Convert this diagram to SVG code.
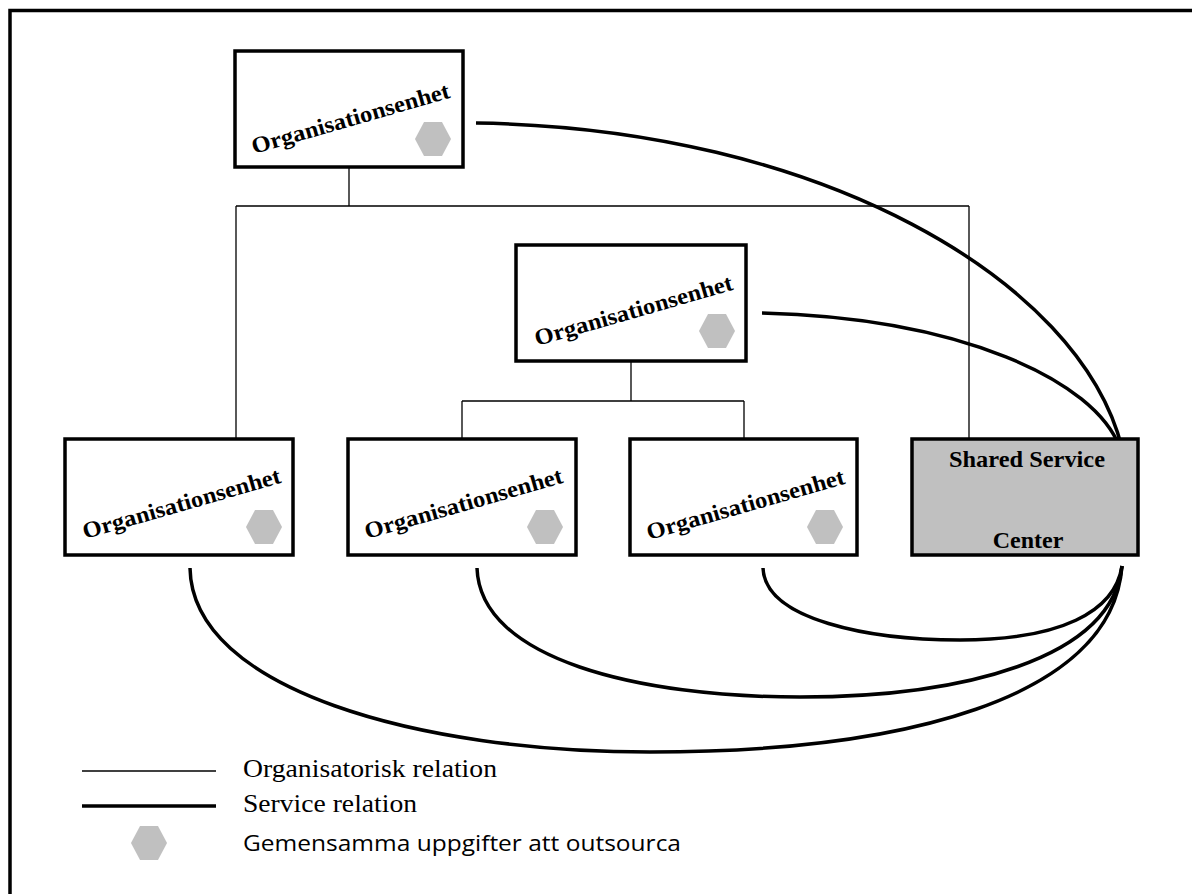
<svg xmlns="http://www.w3.org/2000/svg" width="1192" height="894" viewBox="0 0 1192 894">
<style>
.box{fill:#fff;stroke:#000;stroke-width:3.5}
.ssc{fill:#c0c0c0;stroke:#000;stroke-width:3.5}
.hex{fill:#c0c0c0}
.org{fill:none;stroke:#000;stroke-width:1.3}
.svc{fill:none;stroke:#000;stroke-width:3.5}
.lbl{font-family:"Liberation Serif",serif;font-weight:bold;font-size:23px;fill:#000}
.ssl{font-family:"Liberation Serif",serif;font-weight:bold;font-size:24px;fill:#000}
.leg{font-family:"Liberation Serif",serif;font-size:26px;fill:#000}
.legs{font-family:"Open Sans","Noto Sans",sans-serif;font-size:22px;fill:#000}
</style>
<defs>
<polygon id="hx" points="-18,0 -9,-17 9,-17 18,0 9,17 -9,17"/>
</defs>
<rect width="1192" height="894" fill="#fff"/>
<path d="M10,894 V10.5 H1192" fill="none" stroke="#000" stroke-width="3.5"/>
<g id="connectors">
<path class="org" d="M349,167 V206 M236,206 H969 M236,206 V438 M969,206 V438"/>
<path class="org" d="M631,361 V401 M462,401 H744 M462,401 V438 M744,401 V438"/>
<path class="svc" d="M476,123 C 820,128 1080,280 1122,448"/>
<path class="svc" d="M762,313 C 960,318 1095,380 1120,448"/>
<path class="svc" d="M190,568 C 192,690 420,752 650,752 C 900,752 1112,700 1122,566"/>
<path class="svc" d="M477,568 C 480,660 640,697 800,697 C 960,697 1112,660 1122,566"/>
<path class="svc" d="M763,568 C 765,620 870,640 960,640 C 1060,640 1115,612 1122,566"/>
</g>
<g id="n-top">
<rect class="box" x="235" y="51" width="228" height="116"/>
<text class="lbl" x="351" y="126" text-anchor="middle" textLength="205" lengthAdjust="spacingAndGlyphs" transform="rotate(-16 351 120)">Organisationsenhet</text>
<use href="#hx" class="hex" x="433" y="139"/>
</g>
<g id="n-mid">
<rect class="box" x="516" y="245" width="230" height="116"/>
<text class="lbl" x="634" y="318" text-anchor="middle" textLength="205" lengthAdjust="spacingAndGlyphs" transform="rotate(-16 634 312)">Organisationsenhet</text>
<use href="#hx" class="hex" x="717" y="331"/>
</g>
<g id="n-b1">
<rect class="box" x="65" y="439" width="228" height="116"/>
<text class="lbl" x="182" y="511" text-anchor="middle" textLength="205" lengthAdjust="spacingAndGlyphs" transform="rotate(-16 182 505)">Organisationsenhet</text>
<use href="#hx" class="hex" x="264" y="527"/>
</g>
<g id="n-b2">
<rect class="box" x="348" y="439" width="228" height="116"/>
<text class="lbl" x="464" y="511" text-anchor="middle" textLength="205" lengthAdjust="spacingAndGlyphs" transform="rotate(-16 464 505)">Organisationsenhet</text>
<use href="#hx" class="hex" x="545" y="527"/>
</g>
<g id="n-b3">
<rect class="box" x="630" y="439" width="227" height="116"/>
<text class="lbl" x="746" y="512" text-anchor="middle" textLength="205" lengthAdjust="spacingAndGlyphs" transform="rotate(-16 746 506)">Organisationsenhet</text>
<use href="#hx" class="hex" x="825" y="527"/>
</g>
<g id="n-ssc">
<rect class="ssc" x="912" y="439" width="226" height="116"/>
<text class="ssl" x="1027" y="467" text-anchor="middle" textLength="156" lengthAdjust="spacingAndGlyphs">Shared Service</text>
<text class="ssl" x="1028" y="548" text-anchor="middle">Center</text>
</g>
<g id="legend">
<line x1="82" y1="771" x2="216" y2="771" stroke="#000" stroke-width="1.3"/>
<line x1="82" y1="806" x2="216" y2="806" stroke="#000" stroke-width="3.5"/>
<text class="leg" x="243" y="777" textLength="254" lengthAdjust="spacingAndGlyphs">Organisatorisk relation</text>
<text class="leg" x="243" y="812" textLength="174" lengthAdjust="spacingAndGlyphs">Service relation</text>
<use href="#hx" class="hex" x="149" y="843"/>
<text class="legs" x="243" y="851" textLength="438" lengthAdjust="spacingAndGlyphs">Gemensamma uppgifter att outsourca</text>
</g>
</svg>
